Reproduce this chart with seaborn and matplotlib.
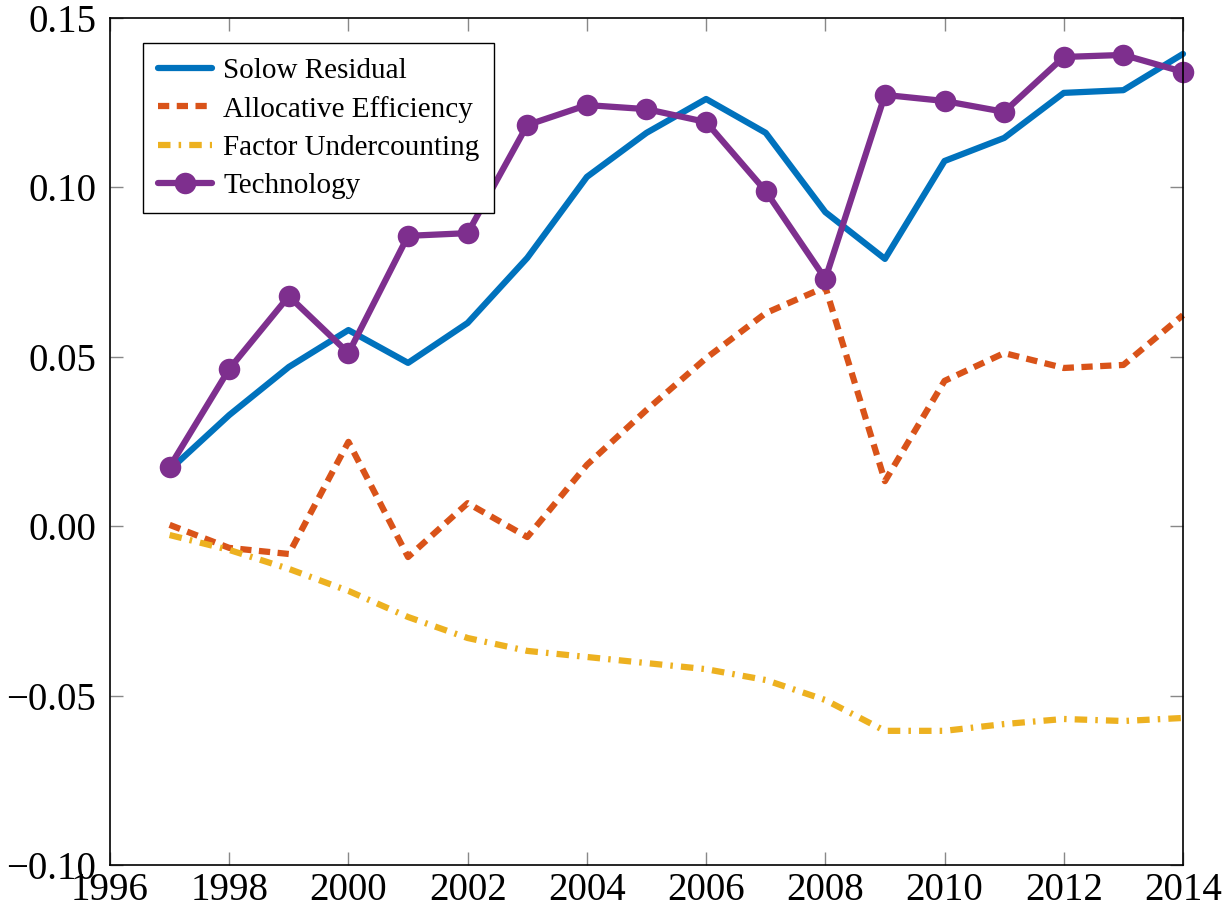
import numpy as np
import pandas as pd
import matplotlib
matplotlib.use("Agg")
from matplotlib import pyplot as plt
import seaborn as sns

years = list(range(1997, 2015))
solow = [0.0166, 0.0328, 0.0470, 0.0579, 0.0482, 0.0600, 0.0792, 0.1031, 0.1161,
         0.1261, 0.1161, 0.0927, 0.0789, 0.1078, 0.1146, 0.1279, 0.1287, 0.1394]
alloc = [0.0004, -0.0064, -0.0082, 0.0249, -0.0091, 0.0068, -0.0032, 0.0181, 0.0343,
         0.0496, 0.0629, 0.0706, 0.0133, 0.0429, 0.0511, 0.0467, 0.0476, 0.0623]
factor = [-0.0026, -0.0070, -0.0126, -0.0191, -0.0268, -0.0330, -0.0368, -0.0386, -0.0404,
          -0.0422, -0.0454, -0.0513, -0.0604, -0.0604, -0.0584, -0.0569, -0.0575, -0.0566]
tech = [0.0175, 0.0464, 0.0679, 0.0511, 0.0857, 0.0865, 0.1184, 0.1243, 0.1231,
        0.1193, 0.0989, 0.0730, 0.1273, 0.1255, 0.1223, 0.1385, 0.1391, 0.1341]

sns.set_style("ticks")
plt.rcParams['font.family'] = ['Liberation Serif', 'DejaVu Serif']
plt.rcParams['axes.unicode_minus'] = True
plt.rcParams['text.color'] = 'black'

fig = plt.figure(figsize=(12.25, 9.11), dpi=100)
ax = fig.add_axes([110/1225, 46/911, 1073/1225, 847/911])

df = pd.DataFrame({'year': years, 'solow': solow, 'alloc': alloc,
                   'factor': factor, 'tech': tech})

sns.lineplot(data=df, x='year', y='solow', ax=ax, color='#0072BD', lw=4.5,
             label='Solow Residual', clip_on=False)
sns.lineplot(data=df, x='year', y='alloc', ax=ax, color='#D95319', lw=4.5,
             label='Allocative Efficiency', clip_on=False)
ax.lines[-1].set_dashes([1.8, 1.2])
sns.lineplot(data=df, x='year', y='factor', ax=ax, color='#EDB120', lw=4.5,
             label='Factor Undercounting', clip_on=False)
ax.lines[-1].set_dashes([2.0, 1.3, 0.4, 1.3])
sns.lineplot(data=df, x='year', y='tech', ax=ax, color='#7E2F8E', lw=4.5,
             marker='o', markersize=15.5, markeredgewidth=0,
             label='Technology', clip_on=False)

ax.set_xlim(1996, 2014)
ax.set_ylim(-0.10, 0.15)
ax.set_xticks(range(1996, 2015, 2))
ax.set_yticks([-0.10, -0.05, 0.0, 0.05, 0.10, 0.15])
ax.set_yticklabels(['\u22120.10', '\u22120.05', '0.00', '0.05', '0.10', '0.15'])
ax.set_xlabel('')
ax.set_ylabel('')
ax.tick_params(direction='in', length=9.5, width=1, color='#888888',
               labelcolor='black', top=True, right=True, labelsize=28)
ax.tick_params(axis='y', pad=10)
ax.tick_params(axis='x', pad=5)
for s in ax.spines.values():
    s.set_linewidth(1.2)
    s.set_color('black')

leg = ax.legend(loc='upper left', bbox_to_anchor=(33/1073, 1 - 25/847), fontsize=21,
                frameon=True, fancybox=False, edgecolor='black', framealpha=1,
                labelcolor='black', handlelength=1.85, borderpad=0.5,
                labelspacing=0.4, handletextpad=0.4, borderaxespad=0)
leg.get_frame().set_linewidth(1.0)

fig.savefig('out.png', dpi=100)
